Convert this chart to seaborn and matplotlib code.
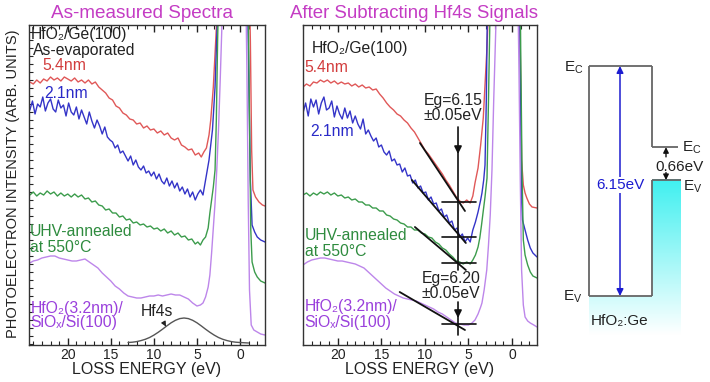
import numpy as np
import pandas as pd
import matplotlib
matplotlib.use("Agg")
import matplotlib.pyplot as plt
import seaborn as sns
from matplotlib.ticker import MultipleLocator
from matplotlib.patches import Rectangle

sns.set_theme(style="white")
plt.rcParams["font.family"] = ["Liberation Sans", "DejaVu Sans"]
plt.rcParams["mathtext.fontset"] = "custom"
plt.rcParams["mathtext.rm"] = "Liberation Sans"
plt.rcParams["mathtext.it"] = "Liberation Sans:italic"

# ---------------- data (loss energy eV, intensity arb. units) ----------------
meas_54nm = [(24.4,318),(24.0,316),(23.6,320),(23.2,317),(22.8,321),(22.4,319),(22.0,323),(21.6,320),(21.2,322),(20.8,319),(20.4,323),(20.0,321),(19.6,319),(19.2,322),(18.8,318),(18.4,320),(18.0,317),(17.6,320),(17.2,316),(16.8,318),(16.4,313),(16.0,310),(15.6,307),(15.2,302),(14.8,300),(14.4,294),(14.0,292),(13.6,287),(13.2,285),(12.8,281),(12.4,280),(12.0,276),(11.6,277),(11.2,272),(10.8,274),(10.4,270),(10.0,271),(9.6,267),(9.2,269),(8.8,265),(8.4,267),(8.0,262),(7.6,260),(7.2,262),(6.8,255),(6.4,253),(6.0,250),(5.6,251),(5.2,245),(4.8,247),(4.5,243),(4.2,248),(3.9,252),(3.6,265),(3.4,280),(3.1,313),(2.8,363),(2.6,400),(2.2,480),(1.0,700),(0.0,700),(-1.0,450),(-1.2,360),(-1.35,250),(-1.5,210),(-1.8,203),(-2.2,198),(-2.6,195),(-2.9,194)]
meas_21nm = [(24.4,290),(24.1,299),(23.8,286),(23.5,296),(23.2,293),(22.9,303),(22.6,289),(22.3,297),(22.0,301),(21.7,291),(21.4,288),(21.1,300),(20.8,292),(20.5,295),(20.2,284),(19.9,297),(19.6,288),(19.3,285),(19.0,293),(18.7,281),(18.4,290),(18.1,283),(17.8,276),(17.5,288),(17.2,279),(16.9,272),(16.6,280),(16.3,274),(16.0,266),(15.7,273),(15.4,263),(15.1,260),(14.8,258),(14.5,252),(14.2,255),(13.9,247),(13.6,249),(13.3,244),(13.0,239),(12.7,244),(12.4,235),(12.1,240),(11.8,233),(11.5,230),(11.2,234),(10.9,227),(10.6,229),(10.3,224),(10.0,228),(9.7,221),(9.4,226),(9.1,219),(8.8,216),(8.5,222),(8.2,214),(7.9,219),(7.6,212),(7.3,217),(7.0,209),(6.7,213),(6.4,206),(6.1,211),(5.8,203),(5.5,208),(5.2,200),(4.9,206),(4.6,210),(4.3,205),(4.0,220),(3.6,240),(3.2,270),(2.9,313),(2.7,363),(2.5,410),(2.2,500),(1.0,700),(0.0,700),(-0.8,450),(-1.0,330),(-1.2,220),(-1.4,175),(-1.7,168),(-2.0,163),(-2.4,160),(-2.9,158)]
meas_uhv = [(24.4,205),(24.0,208),(23.6,204),(23.2,207),(22.8,205),(22.4,209),(22.0,206),(21.6,208),(21.2,204),(20.8,207),(20.4,204),(20.0,206),(19.6,203),(19.2,206),(18.8,203),(18.4,205),(18.0,201),(17.6,202),(17.2,198),(16.8,199),(16.4,195),(16.0,194),(15.6,190),(15.2,191),(14.8,187),(14.4,187),(14.0,183),(13.6,184),(13.2,180),(12.8,181),(12.4,177),(12.0,178),(11.6,175),(11.2,176),(10.8,173),(10.4,174),(10.0,171),(9.6,172),(9.2,169),(8.8,171),(8.4,167),(8.0,169),(7.6,165),(7.2,167),(6.8,163),(6.4,164),(6.0,160),(5.6,161),(5.2,156),(4.9,158),(4.6,155),(4.3,160),(4.0,163),(3.7,172),(3.5,187),(3.3,200),(3.1,213),(2.9,230),(2.75,280),(2.6,360),(2.45,420),(2.2,520),(1.0,700),(0.0,700),(-0.8,520),(-0.95,400),(-1.1,280),(-1.25,170),(-1.4,138),(-1.7,128),(-2.0,123),(-2.4,119),(-2.9,117)]
meas_si = [(24.4,137),(24.0,139),(23.5,140),(23.0,142),(22.5,143),(22.0,144),(21.5,144),(21.0,142),(20.5,141),(20.0,140),(19.5,139),(19.0,139),(18.5,140),(18.0,141),(17.5,138),(17.0,135),(16.5,132),(16.0,127),(15.5,123),(15.0,119),(14.5,114),(14.0,111),(13.5,107),(13.0,104),(12.5,103),(12.0,102),(11.5,102),(11.0,103),(10.5,104),(10.0,104),(9.5,105),(9.0,104),(8.5,105),(8.0,106),(7.5,105),(7.0,105),(6.5,103),(6.0,101),(5.5,97),(5.0,94),(4.6,95),(4.3,97),(4.0,103),(3.7,113),(3.5,125),(3.3,147),(3.1,172),(2.9,197),(2.7,230),(2.5,270),(2.3,320),(2.1,375),(1.9,430),(1.0,700),(0.0,700),(-0.6,450),(-0.8,330),(-0.95,200),(-1.1,110),(-1.3,75),(-1.6,70),(-2.0,68),(-2.4,66),(-2.9,65)]
hf4s = [(13.0,57.5),(12.5,57.8),(12.0,58.4),(11.5,59.4),(11.0,60.7),(10.5,62.5),(10.0,64.9),(9.5,67.7),(9.0,70.8),(8.5,74.1),(8.0,77.2),(7.5,79.7),(7.0,81.4),(6.5,82.0),(6.0,81.4),(5.5,79.7),(5.0,77.2),(4.5,74.1),(4.0,70.8),(3.5,67.7),(3.0,64.9),(2.5,62.5),(2.0,60.7),(1.5,59.4),(1.0,58.4),(0.5,57.8),(0.0,57.5),(-1.0,57.0)]

sub_54nm = [(24.0,313),(23.6,316),(23.2,314),(22.8,318),(22.4,317),(22.0,320),(21.6,318),(21.2,320),(20.8,317),(20.4,319),(20.0,316),(19.6,318),(19.2,316),(18.8,317),(18.4,314),(18.0,316),(17.6,313),(17.2,315),(16.8,312),(16.4,313),(16.0,310),(15.6,311),(15.2,306),(14.8,302),(14.4,297),(14.0,293),(13.6,290),(13.2,286),(12.8,284),(12.4,280),(12.0,277),(11.6,272),(11.2,268),(10.8,262),(10.4,256),(10.0,250),(9.6,246),(9.2,241),(8.8,236),(8.4,231),(8.0,226),(7.6,220),(7.2,215),(6.8,209),(6.4,203),(6.0,199),(5.6,197),(5.2,200),(4.8,197),(4.5,204),(4.25,217),(3.9,232),(3.6,255),(3.3,282),(3.1,315),(2.9,348),(2.75,380),(2.5,430),(1.0,700),(0.0,700),(-0.8,500),(-0.95,350),(-1.1,240),(-1.3,215),(-1.5,207),(-1.7,202),(-2.0,196),(-2.3,193),(-2.87,192)]
sub_21nm = [(24.0,287),(23.7,297),(23.4,284),(23.1,301),(22.8,293),(22.5,300),(22.2,286),(21.9,297),(21.6,303),(21.3,290),(21.0,292),(20.7,299),(20.4,283),(20.1,294),(19.8,286),(19.5,281),(19.2,292),(18.9,282),(18.6,289),(18.3,277),(18.0,284),(17.7,276),(17.4,271),(17.1,281),(16.8,266),(16.5,270),(16.2,264),(15.9,259),(15.6,262),(15.3,253),(15.0,255),(14.7,248),(14.4,245),(14.1,249),(13.8,239),(13.5,241),(13.2,235),(12.9,236),(12.6,228),(12.3,232),(12.0,224),(11.7,225),(11.4,217),(11.1,220),(10.8,212),(10.5,214),(10.2,207),(9.9,208),(9.6,200),(9.3,203),(9.0,196),(8.7,197),(8.4,189),(8.1,191),(7.8,183),(7.5,185),(7.2,177),(6.9,179),(6.6,170),(6.3,172),(6.0,163),(5.7,166),(5.4,158),(5.1,162),(4.8,158),(4.5,170),(4.2,178),(3.9,188),(3.6,200),(3.45,207),(3.25,220),(3.1,235),(2.95,300),(2.85,375),(2.6,450),(1.0,700),(0.0,700),(-0.8,500),(-0.95,330),(-1.1,200),(-1.2,180),(-1.5,170),(-1.8,160),(-2.1,152),(-2.4,147),(-2.87,143)]
sub_uhv = [(24.0,205),(23.6,207),(23.2,204),(22.8,207),(22.4,205),(22.0,208),(21.6,206),(21.2,208),(20.8,205),(20.4,207),(20.0,204),(19.6,205),(19.2,202),(18.8,203),(18.4,200),(18.0,201),(17.6,198),(17.2,198),(16.8,195),(16.4,195),(16.0,192),(15.6,192),(15.2,189),(14.8,189),(14.4,185),(14.0,184),(13.6,181),(13.2,180),(12.8,177),(12.4,176),(12.0,173),(11.6,173),(11.2,170),(10.8,170),(10.4,167),(10.0,166),(9.6,163),(9.2,162),(8.8,158),(8.4,156),(8.0,152),(7.6,150),(7.2,146),(6.8,143),(6.4,139),(6.0,138),(5.6,136),(5.2,138),(4.8,136),(4.5,140),(4.2,145),(3.9,153),(3.7,162),(3.5,175),(3.33,187),(3.1,203),(2.87,222),(2.7,300),(2.55,375),(2.3,450),(1.0,700),(0.0,700),(-0.85,500),(-1.0,350),(-1.15,230),(-1.3,160),(-1.5,145),(-1.8,135),(-2.1,128),(-2.4,124),(-2.87,122)]
sub_si = [(24.0,135),(23.5,138),(23.0,140),(22.5,141),(22.0,142),(21.5,142),(21.0,141),(20.5,140),(20.0,139),(19.5,139),(19.0,138),(18.5,137),(18.0,136),(17.5,134),(17.0,132),(16.5,128),(16.0,124),(15.5,120),(15.0,116),(14.5,112),(14.0,109),(13.5,106),(13.0,104),(12.5,102),(12.0,101),(11.5,100),(11.0,99),(10.5,97),(10.0,95),(9.5,93),(9.0,91),(8.5,88),(8.0,86),(7.5,83),(7.0,80),(6.5,77),(6.0,76),(5.5,75),(5.0,75),(4.6,77),(4.25,80),(3.9,86),(3.6,93),(3.45,97),(3.2,110),(2.9,130),(2.7,155),(2.5,185),(2.3,230),(2.1,300),(1.9,360),(1.7,420),(1.0,700),(0.0,700),(-0.6,450),(-0.8,330),(-0.95,220),(-1.1,130),(-1.3,95),(-1.5,83),(-1.8,79),(-2.1,77),(-2.5,75),(-2.87,73)]

# linear fits to the onset region (end points)
fit_54nm = [(10.57,257),(5.4,189)]
fit_21nm = [(11.5,220),(5.3,157)]
fit_uhv = [(11.15,173),(5.3,130)]
fit_si = [(12.9,108),(5.4,70)]
eg_position = 6.2
cross_levels = [198, 163, 137, 76]

# band diagram (eV)
hfo2_ev, hfo2_ec = 0.0, 6.15
ge_ev, ge_ec = 3.10, 3.98

# ---------------- colours ----------------
c_red, c_blue, c_green, c_purple = "#e05858", "#3434c8", "#3c9c4c", "#bd86ea"
t_red, t_blue, t_green, t_purple = "#d23c3c", "#2a2ac8", "#2e8b3e", "#9a40dc"
c_title = "#c43cc4"

fig = plt.figure(figsize=(7.10, 3.82), dpi=100)
W, H = 710, 382

def frame(px_left, px_width):
    return fig.add_axes([px_left / W, (H - 345) / H, px_width / W, 320 / H])

axL = frame(29, 236)
axR = frame(303, 234)

def draw(ax, data, color, lw=1.0):
    df = pd.DataFrame(data, columns=["E", "I"])
    sns.lineplot(data=df, x="E", y="I", ax=ax, color=color, lw=lw, sort=False,
                 estimator=None)

for ax, xl in ((axL, (24.5, -2.9)), (axR, (24.0, -2.87))):
    ax.set_xlim(*xl)
    ax.set_ylim(55, 375)
    ax.xaxis.set_major_locator(MultipleLocator(5))
    ax.xaxis.set_minor_locator(MultipleLocator(1))
    ax.set_yticks([])
    ax.tick_params(axis="x", which="both", direction="in", top=True, bottom=True,
                   labelsize=10, pad=2, colors="#222222")
    ax.tick_params(axis="x", which="major", length=5, width=1)
    ax.tick_params(axis="x", which="minor", length=3, width=0.8)
    for s in ax.spines.values():
        s.set_color("#333333")
        s.set_linewidth(1.0)
    ax.set_xlabel("LOSS ENERGY (eV)", fontsize=11.5, labelpad=0, color="#222222")
    ax.set_ylabel("")

axL.yaxis.set_minor_locator(MultipleLocator(8))
axL.tick_params(axis="y", which="minor", direction="in", left=True, length=3, width=0.8)

fs = 11.3
# left panel
for data, col in ((meas_54nm, c_red), (meas_21nm, c_blue), (meas_uhv, c_green), (meas_si, c_purple)):
    draw(axL, data, col)
draw(axL, hf4s, "#555555")
axL.annotate("Hf4s", xy=(8.6, 73.5), xytext=(9.6, 89), ha="center", va="center",
             fontsize=fs, color="#222222",
             arrowprops=dict(arrowstyle="-|>", color="#222222", lw=0.8,
                             mutation_scale=7, shrinkA=3, shrinkB=0))
axL.text(24.3, 365, "HfO₂/Ge(100)", fontsize=fs, color="#222222", va="center")
axL.text(24.0, 349, "As-evaporated", fontsize=fs, color="#222222", va="center")
axL.text(23.0, 334, "5.4nm", fontsize=fs, color=t_red, va="center")
axL.text(22.7, 307, "2.1nm", fontsize=fs, color=t_blue, va="center")
axL.text(24.4, 168, "UHV-annealed", fontsize=fs, color=t_green, va="center")
axL.text(24.4, 152, "at 550°C", fontsize=fs, color=t_green, va="center")
axL.text(24.3, 92, "HfO₂(3.2nm)/", fontsize=fs, color=t_purple, va="center")
axL.text(24.3, 77, "SiOₓ/Si(100)", fontsize=fs, color=t_purple, va="center")

# right panel
for data, col in ((sub_54nm, c_red), (sub_21nm, c_blue), (sub_uhv, c_green), (sub_si, c_purple)):
    draw(axR, data, col)
for fit in (fit_54nm, fit_21nm, fit_uhv, fit_si):
    draw(axR, fit, "#111111", lw=1.3)
for lv in cross_levels:
    axR.plot([8.0, 4.1], [lv, lv], color="#111111", lw=1.2)
axR.plot([eg_position, eg_position], [250, 130], color="#111111", lw=1.2)
axR.plot([eg_position, eg_position], [84, 65], color="#111111", lw=1.2)
for y0, y1 in ((273, 246), (98, 82)):
    axR.annotate("", xy=(eg_position, y1), xytext=(eg_position, y0),
                 arrowprops=dict(arrowstyle="-|>", color="#111111", lw=1.2,
                                 mutation_scale=11, shrinkA=0, shrinkB=0))
axR.text(6.8, 300, "Eg=6.15", fontsize=fs, color="#222222", ha="center", va="center")
axR.text(6.8, 285, "±0.05eV", fontsize=fs, color="#222222", ha="center", va="center")
axR.text(7.0, 122, "Eg=6.20", fontsize=fs, color="#222222", ha="center", va="center")
axR.text(7.0, 107, "±0.05eV", fontsize=fs, color="#222222", ha="center", va="center")
axR.text(23.0, 351, "HfO₂/Ge(100)", fontsize=fs, color="#222222", va="center")
axR.text(23.8, 332, "5.4nm", fontsize=fs, color=t_red, va="center")
axR.text(23.2, 268, "2.1nm", fontsize=fs, color=t_blue, va="center")
axR.text(23.8, 165, "UHV-annealed", fontsize=fs, color=t_green, va="center")
axR.text(23.8, 149, "at 550°C", fontsize=fs, color=t_green, va="center")
axR.text(23.8, 93, "HfO₂(3.2nm)/", fontsize=fs, color=t_purple, va="center")
axR.text(23.8, 78, "SiOₓ/Si(100)", fontsize=fs, color=t_purple, va="center")

# titles and y label
fig.text(142 / W, 1 - 13 / H, "As-measured Spectra", fontsize=13.6, color=c_title, ha="center", va="center")
fig.text(414 / W, 1 - 13 / H, "After Subtracting Hf4s Signals", fontsize=13.4, color=c_title, ha="center", va="center")
fig.text(13 / W, 1 - 184 / H, "PHOTOELECTRON INTENSITY (ARB. UNITS)", fontsize=10.5,
         color="#222222", rotation=90, ha="center", va="center")

# ---------------- band diagram ----------------
bx = fig.add_axes([550 / W, 42 / H, 160 / W, 300 / H])
bx.set_xlim(550, 710)
bx.set_ylim(-1.176, 6.845)
bx.axis("off")
xl, xm, xr, xec = 589, 652, 681, 678
grad = np.linspace(0, 1, 256)[:, None, None]
top = np.array([0.25, 0.94, 0.94])[None, None, :]
img = top * (1 - grad) + grad
img = np.repeat(img, 2, axis=1)
bx.imshow(img, extent=(xl, xr, -1.05, ge_ev), aspect="auto", origin="upper", zorder=0)
bx.add_patch(Rectangle((xl, hfo2_ev), xm - xl, hfo2_ec - hfo2_ev, color="white", zorder=1, lw=0))
gc = "#666666"
kw = dict(color=gc, lw=1.3, zorder=3, solid_capstyle="butt")
bx.plot([xl, xl], [hfo2_ev, hfo2_ec], **kw)
bx.plot([xl, xm], [hfo2_ec, hfo2_ec], **kw)
bx.plot([xl, xm], [hfo2_ev, hfo2_ev], **kw)
bx.plot([xm, xm], [ge_ec, hfo2_ec], **kw)
bx.plot([xm, xec], [ge_ec, ge_ec], **kw)
bx.plot([xm, xm], [hfo2_ev, ge_ev], **kw)
bx.plot([xm, xr], [ge_ev, ge_ev], **kw)
bx.annotate("", xy=(620, hfo2_ec), xytext=(620, hfo2_ev),
            arrowprops=dict(arrowstyle="<|-|>", color="#1c1cd0", lw=1.1,
                            mutation_scale=10, shrinkA=0, shrinkB=0), zorder=4)
bfs = 11
bx.text(620, 2.97, "6.15eV", fontsize=bfs, color="#1c1cd0", ha="center", va="center",
        zorder=5, bbox=dict(facecolor="white", edgecolor="none", pad=1))
bx.annotate("", xy=(666, ge_ec), xytext=(666, 3.72),
            arrowprops=dict(arrowstyle="-|>", color="#111111", lw=1.0,
                            mutation_scale=8, shrinkA=0, shrinkB=0), zorder=4)
bx.annotate("", xy=(666, ge_ev), xytext=(666, 3.30),
            arrowprops=dict(arrowstyle="-|>", color="#111111", lw=1.0,
                            mutation_scale=8, shrinkA=0, shrinkB=0), zorder=4)
bx.text(679, 3.45, "0.66eV", fontsize=bfs, color="#222222", ha="center", va="center", zorder=5)
bx.text(564, 6.10, "E$_\\mathregular{C}$", fontsize=bfs, color="#222222", ha="left", va="center")
bx.text(682, 3.96, "E$_\\mathregular{C}$", fontsize=bfs, color="#222222", ha="left", va="center")
bx.text(683, 2.91, "E$_\\mathregular{V}$", fontsize=bfs, color="#222222", ha="left", va="center")
bx.text(563, -0.03, "E$_\\mathregular{V}$", fontsize=bfs, color="#222222", ha="left", va="center")
bx.text(620, -0.67, "HfO₂:Ge", fontsize=bfs, color="#222222", ha="center", va="center", zorder=5)

fig.savefig("out.png", dpi=100, facecolor="white")
